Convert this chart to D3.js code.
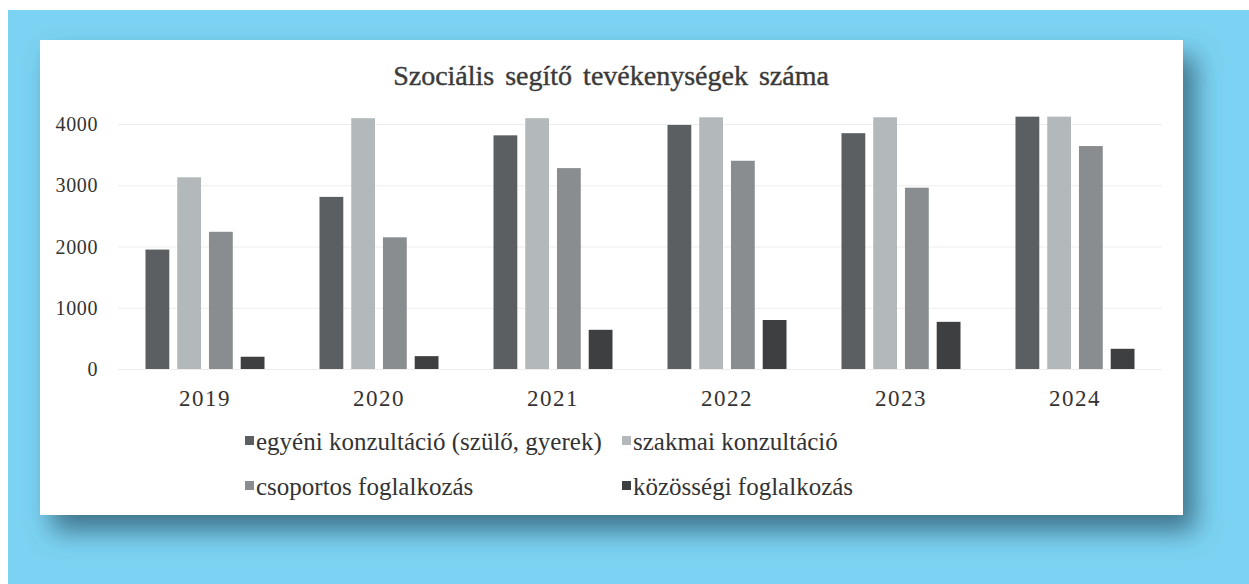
<!DOCTYPE html>
<html>
<head>
<meta charset="utf-8">
<title>Szociális segítő tevékenységek száma</title>
<style>
  body { margin: 0; background: #fff; }
  text { font-family: "Liberation Serif", "Times New Roman", serif; }
  .grid line { stroke: #ededed; stroke-width: 1px; }
  .grid path { display: none; }
</style>
</head>
<body>
<svg width="1249" height="584"></svg>
<script src="https://d3js.org/d3.v7.min.js"></script>
<script>

var years = ["2019", "2020", "2021", "2022", "2023", "2024"];
var seriesNames = ["egyéni konzultáció (szülő, gyerek)", "szakmai konzultáció",
                   "csoportos foglalkozás", "közösségi foglalkozás"];
var egyeni    = [1950, 2810, 3815, 3985, 3850, 4120];
var szakmai   = [3130, 4095, 4095, 4110, 4110, 4120];
var csoportos = [2240, 2150, 3280, 3400, 2960, 3640];
var kozossegi = [200, 210, 640, 800, 770, 330];
var yTicks = [0, 1000, 2000, 3000, 4000];
var colors = ["#5b5f61", "#b3b9bb", "#898d8f", "#3d3f41"];

var values = [egyeni, szakmai, csoportos, kozossegi];

var svg = d3.select("svg");

// scanned page: blue backing with a white card and soft shadow
var defs = svg.append("defs");
var f = defs.append("filter").attr("id", "shadow")
    .attr("x", "-10%").attr("y", "-10%").attr("width", "125%").attr("height", "135%");
f.append("feDropShadow")
    .attr("dx", 12).attr("dy", 16).attr("stdDeviation", 13)
    .attr("flood-color", "#2e5d70").attr("flood-opacity", 0.8);

svg.append("rect")
    .attr("x", 8).attr("y", 10).attr("width", 1241).attr("height", 574)
    .attr("fill", "#7cd2f2");

svg.append("rect")
    .attr("x", 40).attr("y", 40).attr("width", 1143).attr("height", 475)
    .attr("fill", "#fff")
    .attr("filter", "url(#shadow)");

var x0 = d3.scaleBand().domain(years).range([118, 1162])
    .paddingInner(0.316).paddingOuter(0.158);
var x1 = d3.scaleBand().domain(d3.range(seriesNames.length)).range([0, x0.bandwidth()])
    .paddingInner(0.25);
var y = d3.scaleLinear().domain([0, 4000]).range([369, 124]);

// gridlines
svg.append("g")
    .attr("class", "grid")
    .attr("transform", "translate(118,0)")
    .call(d3.axisLeft(y).tickValues(yTicks).tickSize(-1044).tickFormat(""));

// y tick labels
svg.append("g").selectAll("text")
    .data(yTicks)
    .join("text")
    .attr("x", 98)
    .attr("y", function(d) { return y(d); })
    .attr("dy", "0.35em")
    .attr("text-anchor", "end")
    .attr("fill", "#333")
    .style("font-size", "20px")
    .style("letter-spacing", "0.6px")
    .text(function(d) { return d; });

// bars
var group = svg.append("g").selectAll("g")
    .data(years)
    .join("g")
    .attr("transform", function(d) { return "translate(" + x0(d) + ",0)"; });

group.selectAll("rect")
    .data(function(d, i) { return values.map(function(v, k) { return {k: k, value: v[i]}; }); })
    .join("rect")
    .attr("x", function(d) { return x1(d.k); })
    .attr("y", function(d) { return y(d.value); })
    .attr("width", x1.bandwidth())
    .attr("height", function(d) { return y(0) - y(d.value); })
    .attr("fill", function(d) { return colors[d.k]; });

// year labels
svg.append("g").selectAll("text")
    .data(years)
    .join("text")
    .attr("x", function(d) { return x0(d) + x0.bandwidth() / 2; })
    .attr("y", 398)
    .attr("dy", "0.35em")
    .attr("text-anchor", "middle")
    .attr("fill", "#333")
    .style("font-size", "23px")
    .style("letter-spacing", "1.5px")
    .text(function(d) { return d; });

// title
svg.append("text")
    .attr("x", 611)
    .attr("y", 85)
    .attr("text-anchor", "middle")
    .attr("fill", "#3a3a3a")
    .attr("stroke", "#3a3a3a")
    .attr("stroke-width", 0.4)
    .style("font-size", "28px")
    .style("word-spacing", "4px")
    .text("Szociális segítő tevékenységek száma");

// legend, 2 x 2
var legendPos = [[245, 441], [622, 441], [245, 486], [622, 486]];
var legend = svg.append("g").selectAll("g")
    .data(seriesNames)
    .join("g")
    .attr("transform", function(d, i) { return "translate(" + legendPos[i][0] + "," + legendPos[i][1] + ")"; });

legend.append("rect")
    .attr("x", 0).attr("y", -5)
    .attr("width", 9).attr("height", 9)
    .attr("fill", function(d, i) { return colors[i]; });

legend.append("text")
    .attr("x", 11)
    .attr("dy", "0.35em")
    .attr("fill", "#333")
    .style("font-size", "25px")
    .text(function(d) { return d; });

</script>
</body>
</html>
